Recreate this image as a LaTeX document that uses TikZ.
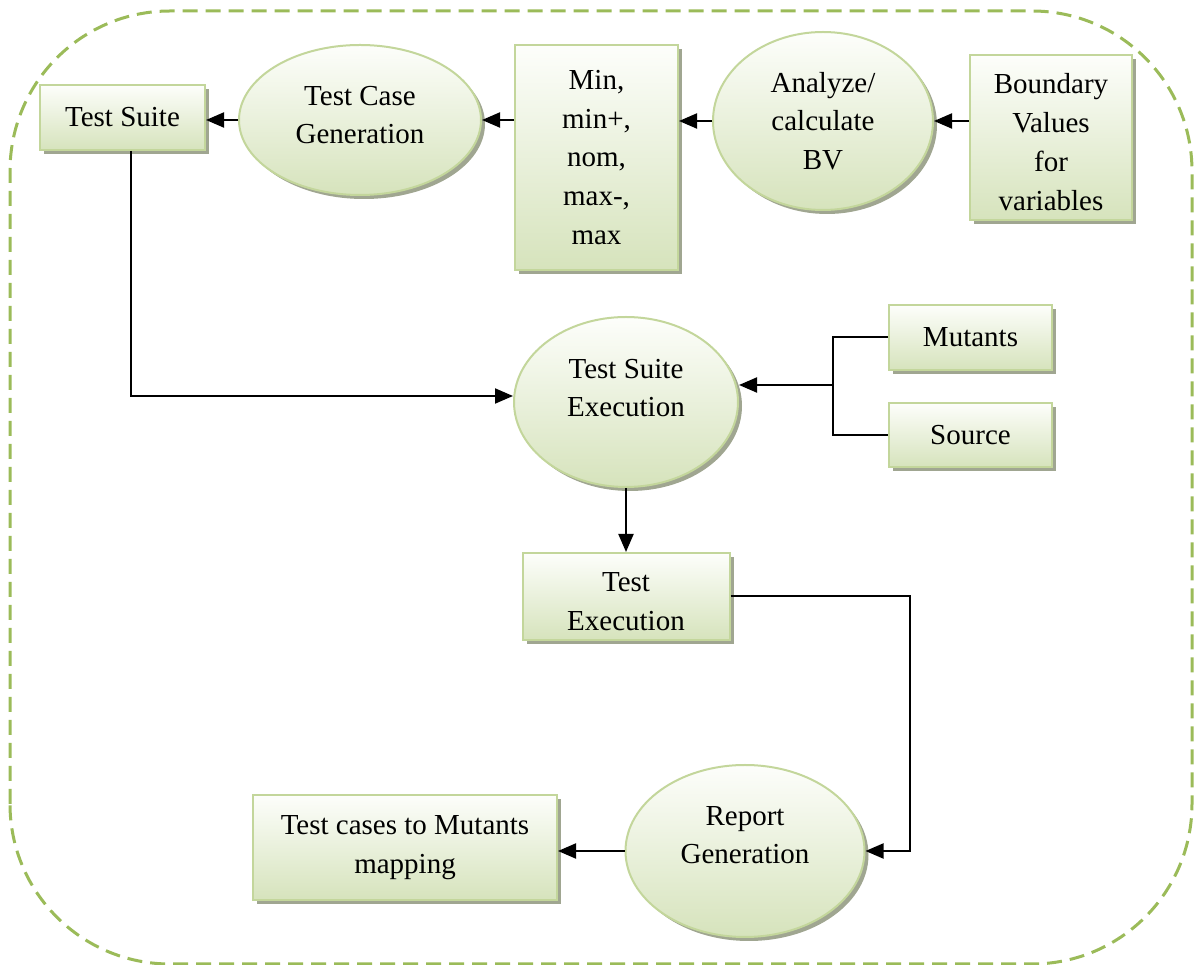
\documentclass[tikz,border=0pt]{standalone}
\usepackage{fontspec}
\setmainfont{Liberation Serif}
\usetikzlibrary{shapes.geometric,shadows,arrows.meta}
\definecolor{framec}{RGB}{155,187,89}
\definecolor{bordc}{RGB}{195,214,155}
\definecolor{topc}{RGB}{253,254,251}
\definecolor{botc}{RGB}{214,227,188}
\definecolor{shadc}{RGB}{160,166,145}
\begin{document}
\begin{tikzpicture}[x=0.5pt,y=0.5pt,
  font=\fontsize{14.5pt}{19.4pt}\selectfont,
  shad/.style={drop shadow={shadow xshift=2pt,shadow yshift=-2pt,fill=shadc,opacity=1}},
  box/.style={rectangle,draw=bordc,line width=1pt,top color=topc,bottom color=botc,
    shad,align=center,inner sep=0pt},
  oval/.style={ellipse,draw=bordc,line width=1pt,top color=topc,bottom color=botc,
    shad,align=center,inner sep=0pt},
  arr/.style={-{Triangle[length=9pt,width=7.5pt]},line width=1pt},
  link/.style={line width=1pt},
  frame/.style={draw=framec,line width=1.5pt,dash pattern=on 7.5pt off 4pt,rounded corners=80pt}]
\useasboundingbox (0,0) rectangle (1196,965);

% dashed enclosing outline
\draw[frame] (10,1) rectangle (1192,954);

% top row
\node[box,minimum width=82.5pt,minimum height=32.5pt] (ts) at (122.5,847.5) {Test Suite};
\node[oval,minimum width=121pt,minimum height=75pt,text depth=5pt] (tcg) at (360,845) {Test Case\\Generation};
\node[box,minimum width=81.5pt,minimum height=112.5pt] (mm) at (596.5,807.5) {Min,\\min+,\\nom,\\max-,\\max};
\node[oval,minimum width=110pt,minimum height=89pt] (av) at (823,844) {Analyze/\\calculate\\BV};
\node[box,minimum width=81pt,minimum height=82.5pt,text height=73pt] (bv) at (1051,827.5) {Boundary\\Values\\for\\variables};

% middle
\node[oval,minimum width=112pt,minimum height=85pt,text depth=14pt] (tse) at (626,563) {Test Suite\\Execution};
\node[box,minimum width=81.5pt,minimum height=32.5pt] (mut) at (970.5,627.5) {Mutants};
\node[box,minimum width=81.5pt,minimum height=32pt] (src) at (970.5,530) {Source};
\node[box,minimum width=103.5pt,minimum height=43.5pt,text height=34pt] (te) at (626,368.5) {Test\\Execution};

% bottom row
\node[oval,minimum width=119.5pt,minimum height=86pt,text depth=16pt] (rg) at (745,114) {Report\\Generation};
\node[box,minimum width=152pt,minimum height=52.5pt] (map) at (405,117.5) {Test cases to Mutants\\mapping};

% junction points
\coordinate (j) at (833,580);
\coordinate (rr) at (910,114);

% connectors
\draw[arr] (tcg.west) -- (tcg.west -| ts.east);
\draw[arr] (mm.west |- tcg.east) -- (tcg.east);
\draw[arr] (av.west) -- (av.west -| mm.east);
\draw[arr] (bv.west |- av.east) -- (av.east);
\draw[arr] ([xshift=4pt]ts.south) |- ([yshift=3pt]tse.west);
\draw[link] (mut.west) -| (j) |- (src.west);
\draw[arr] (j) -- (j -| tse.east);
\draw[arr] (tse.south) -- (te.north);
\draw[arr] (te.east) -| (rr) -- (rg.east);
\draw[arr] (rg.west) -- (rg.west -| map.east);
\end{tikzpicture}
\end{document}
